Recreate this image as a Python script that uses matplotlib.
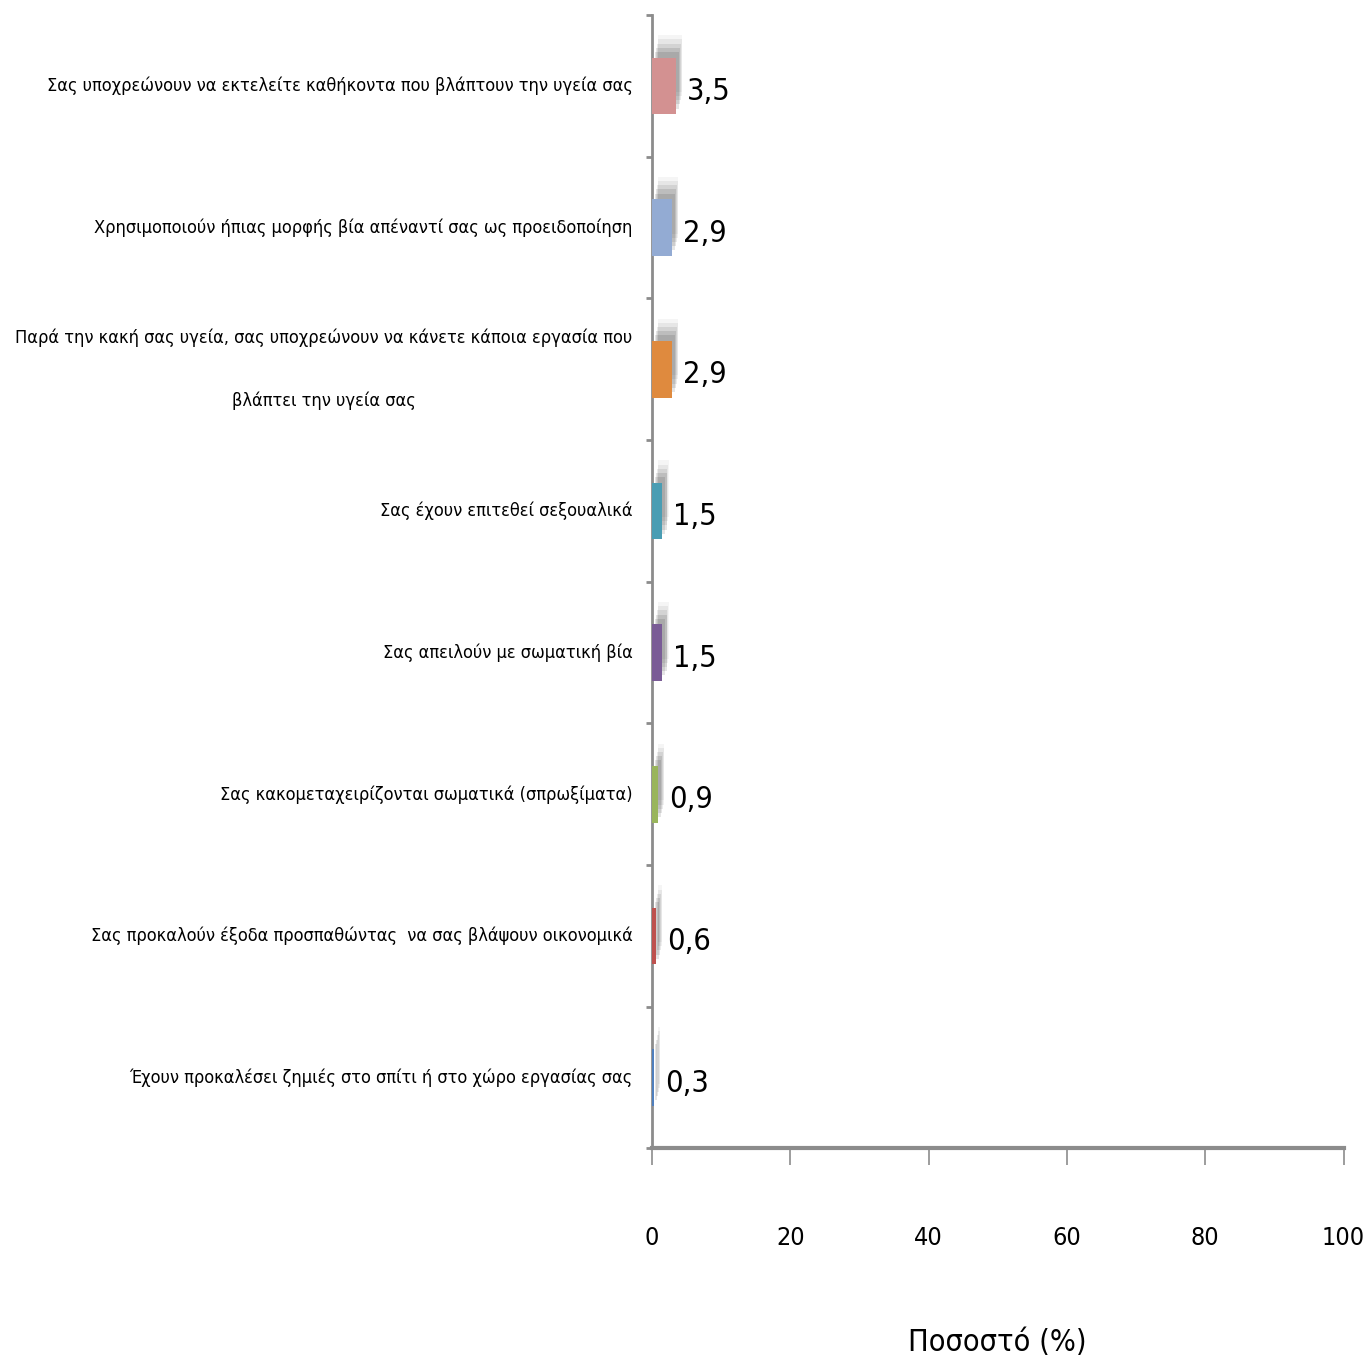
import matplotlib
matplotlib.use("Agg")
import matplotlib.pyplot as plt
import matplotlib.patheffects as pe
from matplotlib import font_manager

categories = [
    "Σας υποχρεώνουν να εκτελείτε καθήκοντα που βλάπτουν την υγεία σας",
    "Χρησιμοποιούν ήπιας μορφής βία απέναντί σας ως προειδοποίηση",
    "Παρά την κακή σας υγεία, σας υποχρεώνουν να κάνετε κάποια εργασία που\nβλάπτει την υγεία σας",
    "Σας έχουν επιτεθεί σεξουαλικά",
    "Σας απειλούν με σωματική βία",
    "Σας κακομεταχειρίζονται σωματικά (σπρωξίματα)",
    "Σας προκαλούν έξοδα προσπαθώντας  να σας βλάψουν οικονομικά",
    "Έχουν προκαλέσει ζημιές στο σπίτι ή στο χώρο εργασίας σας",
]
values = [3.5, 2.9, 2.9, 1.5, 1.5, 0.9, 0.6, 0.3]
value_labels = ["3,5", "2,9", "2,9", "1,5", "1,5", "0,9", "0,6", "0,3"]
x_ticks = [0, 20, 40, 60, 80, 100]
x_label = "Ποσοστό (%)"

bar_colors = ["#D39191", "#93ABD3", "#DF8A3E", "#4A9DB3",
              "#7A5C96", "#99B55C", "#BE514E", "#4F7FBD"]

# Prefer a narrow face if one is installed
names = {f.name for f in font_manager.fontManager.ttflist}
if "Liberation Sans Narrow" in names:
    family, stretch = "Liberation Sans Narrow", "normal"
else:
    family, stretch = "DejaVu Sans", "condensed"
plt.rcParams["font.family"] = [family, "DejaVu Sans"]
plt.rcParams["font.stretch"] = stretch

fig = plt.figure(figsize=(13.64, 13.64), dpi=100)
ax = fig.add_axes([0.478, 0.158, 0.507, 0.831])

ypos = list(range(len(categories)))
# soft drop shadow built from several faint offset copies
shadow = [
    pe.SimplePatchShadow(offset=(4.5, 16), shadow_rgbFace="#000000", alpha=0.04),
    pe.SimplePatchShadow(offset=(4, 13), shadow_rgbFace="#000000", alpha=0.06),
    pe.SimplePatchShadow(offset=(3.5, 10), shadow_rgbFace="#000000", alpha=0.08),
    pe.SimplePatchShadow(offset=(3, 7), shadow_rgbFace="#000000", alpha=0.10),
    pe.SimplePatchShadow(offset=(2, 4), shadow_rgbFace="#000000", alpha=0.10),
    pe.Normal(),
]
bars = ax.barh(ypos, values, height=0.4, color=bar_colors, zorder=3)
for b in bars:
    b.set_path_effects(shadow)

for y, v, lab in zip(ypos, values, value_labels):
    ax.annotate(lab, xy=(v, y), xytext=(8, -4), textcoords="offset points",
                ha="left", va="center", fontsize=22, color="black")

ax.set_xlim(0, 100)
ax.set_ylim(len(categories) - 0.5, -0.5)

ax.set_xticks(x_ticks)
ax.set_xticklabels([str(t) for t in x_ticks], fontsize=18)
ax.tick_params(axis="x", length=12, width=1.2, color="#8C8C8C", pad=44)

label_size = 20
ax.set_yticks(ypos)
ax.set_yticklabels(categories, fontsize=label_size, multialignment="center",
                   linespacing=4.1, va="center")
ax.tick_params(axis="y", which="major", length=0, pad=14)
ax.set_yticks([i - 0.5 for i in range(len(categories) + 1)], minor=True)
ax.tick_params(axis="y", which="minor", length=4, width=2, color="#8C8C8C")

ax.set_xlabel(x_label, fontsize=22, labelpad=56)

for side in ["top", "right"]:
    ax.spines[side].set_visible(False)
ax.spines["left"].set_color("#8C8C8C")
ax.spines["left"].set_linewidth(2)
ax.spines["bottom"].set_color("#8C8C8C")
ax.spines["bottom"].set_linewidth(3)

# Shrink the category labels so the widest one fits left of the axis
fig.canvas.draw()
renderer = fig.canvas.get_renderer()
widest = max(t.get_window_extent(renderer).width for t in ax.get_yticklabels())
target = 620.0
new_size = label_size * target / widest
for t in ax.get_yticklabels():
    t.set_fontsize(new_size)

fig.savefig("out.png", dpi=100, facecolor="white")
